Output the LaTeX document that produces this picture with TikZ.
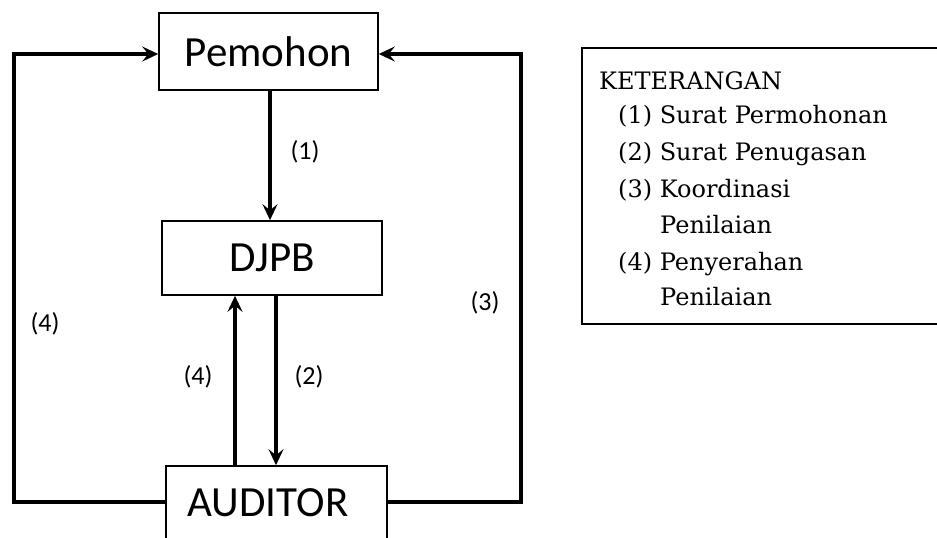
\documentclass[tikz,border=0pt]{standalone}
\usepackage{fontspec}
\setmainfont{DejaVu Serif}
\newfontfamily\boxfont{Carlito}
\usetikzlibrary{arrows.meta}
\begin{document}
\begin{tikzpicture}[x=1pt,y=-1pt,
  boxnode/.style={draw, line width=1.6pt, inner sep=0pt, font=\boxfont\fontsize{43}{46}\selectfont},
  conn/.style={line width=3.6pt, -{Stealth[length=16pt,width=15pt,inset=6pt]}},
  lbl/.style={font=\boxfont\fontsize{26}{30}\selectfont, inner sep=0pt},
  leg/.style={font=\fontsize{24}{28}\selectfont, anchor=base west, inner sep=0pt}]
\useasboundingbox (0,0) rectangle (937,538);
\fill[white] (0,0) rectangle (937,538);
% boxes
\node[boxnode, minimum width=219pt, minimum height=77pt] (p) at (268.5,51.5) {Pemohon};
\node[boxnode, minimum width=220pt, minimum height=74pt] (d) at (272,258) {DJPB};
\node[boxnode, minimum width=221pt, minimum height=80pt] (a) at (276.5,506) {};
\node[font=\boxfont\fontsize{43}{46}\selectfont, inner sep=0pt] (at) at (268,503) {AUDITOR};
% connectors
\coordinate (l1) at (14,502);
\coordinate (l2) at (14,54);
\coordinate (r1) at (521,502);
\coordinate (r2) at (521,54);
\draw[conn] (p.south -| 270,0) -- (d.north -| 270,0);
\draw[conn] (d.south -| 276,0) -- (a.north -| 276,0);
\draw[conn] (a.north -| 235,0) -- (d.south -| 235,0);
\draw[conn] (a.west |- l1) -- (l1) -- (l2) -- (p.west |- l2);
\draw[conn] (a.east |- r1) -- (r1) -- (r2) -- (p.east |- r2);
% labels
\node[lbl] (n1) at (305,152) {(1)};
\node[lbl] (n2) at (309,377) {(2)};
\node[lbl] (n3) at (485,303) {(3)};
\node[lbl] (n4a) at (45,324) {(4)};
\node[lbl] (n4b) at (198,377) {(4)};
% legend
\draw[line width=1.6pt] (945,48) -- (582,48) -- (582,324) -- (945,324);
\node[leg] (k0) at (599,89) {KETERANGAN};
\node[leg] (k1) at (618,123) {(1) Surat Permohonan};
\node[leg] (k2) at (618,160) {(2) Surat Penugasan};
\node[leg] (k3) at (618,197) {(3) Koordinasi};
\node[leg] (k3b) at (660,233) {Penilaian};
\node[leg] (k4) at (618,270) {(4) Penyerahan};
\node[leg] (k4b) at (660,305) {Penilaian};
\end{tikzpicture}
\end{document}
